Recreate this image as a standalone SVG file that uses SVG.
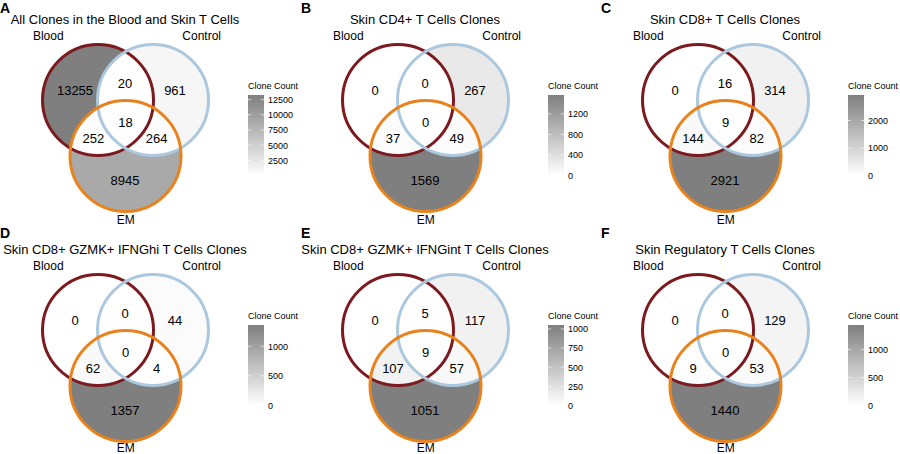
<svg xmlns="http://www.w3.org/2000/svg" xmlns:xlink="http://www.w3.org/1999/xlink" width="900" height="454" viewBox="0 0 900 454">
<style>
text{font-family:"Liberation Sans",Arial,Helvetica,sans-serif;fill:#000}
.pl{font-size:14px;font-weight:bold}
.ti{font-size:13px;text-anchor:middle}
.lab{font-size:12px;text-anchor:middle}
.num{font-size:13px;text-anchor:middle}
.leg{font-size:9px}
.tk{font-size:9px}
.sb{fill:none;stroke:#7b1a1f;stroke-width:3}
.sc{fill:none;stroke:#abc8df;stroke-width:3}
.se{fill:none;stroke:#e8821c;stroke-width:3}
.tm{stroke:#ffffff;stroke-width:0.8;stroke-opacity:0.8}
</style>
<defs>
<circle id="shB" cx="98" cy="100" r="55.5"/>
<circle id="shC" cx="153" cy="100" r="55.5"/>
<circle id="shE" cx="125.5" cy="156" r="55.5"/>
<clipPath id="cB"><circle cx="98" cy="100" r="55.5"/></clipPath>
<clipPath id="cC"><circle cx="153" cy="100" r="55.5"/></clipPath>
<linearGradient id="grad" x1="0" y1="0" x2="0" y2="1">
<stop offset="0" stop-color="#7f7f7f"/>
<stop offset="1" stop-color="#ffffff"/>
</linearGradient>
<rect id="bar" x="248" y="95" width="16" height="80.5" fill="url(#grad)"/>
</defs>
<rect width="900" height="454" fill="#ffffff"/>

<!-- Panel A -->
<g id="panelA" transform="translate(0,0)">
<text class="pl" x="0" y="13">A</text>
<text class="ti" x="125" y="24">All Clones in the Blood and Skin T Cells</text>
<g id="A-regions">
<use href="#shB" fill="#7f7f7f"/>
<use href="#shC" fill="#f6f6f6"/>
<use href="#shE" fill="#a9a9a9"/>
<use href="#shC" clip-path="url(#cB)" fill="#ffffff"/>
<use href="#shE" clip-path="url(#cB)" fill="#fdfdfd"/>
<use href="#shE" clip-path="url(#cC)" fill="#fdfdfd"/>
<g clip-path="url(#cB)"><use href="#shE" clip-path="url(#cC)" fill="#ffffff"/></g>
</g>
<g id="A-blood"><use href="#shB" class="sb"/><text class="lab" x="48.3" y="40">Blood</text></g>
<g id="A-control"><use href="#shC" class="sc"/><text class="lab" x="201.7" y="40">Control</text></g>
<g id="A-em"><use href="#shE" class="se"/><text class="lab" x="125.8" y="224">EM</text></g>
<g id="A-counts">
<text class="num" x="75" y="95">13255</text>
<text class="num" x="125" y="88.3">20</text>
<text class="num" x="175" y="95">961</text>
<text class="num" x="125.5" y="126.7">18</text>
<text class="num" x="93.3" y="143.3">252</text>
<text class="num" x="156.7" y="143.3">264</text>
<text class="num" x="125" y="185">8945</text>
</g>
<g id="A-legend">
<text class="leg" x="248" y="88.5">Clone Count</text>
<use href="#bar"/>
<g class="tm">
<line x1="248" x2="251.2" y1="99.6" y2="99.6"/><line x1="260.8" x2="264" y1="99.6" y2="99.6"/>
<line x1="248" x2="251.2" y1="114.8" y2="114.8"/><line x1="260.8" x2="264" y1="114.8" y2="114.8"/>
<line x1="248" x2="251.2" y1="130" y2="130"/><line x1="260.8" x2="264" y1="130" y2="130"/>
<line x1="248" x2="251.2" y1="145.2" y2="145.2"/><line x1="260.8" x2="264" y1="145.2" y2="145.2"/>
<line x1="248" x2="251.2" y1="160.4" y2="160.4"/><line x1="260.8" x2="264" y1="160.4" y2="160.4"/>
</g>
<text class="tk" x="268" y="102.9">12500</text>
<text class="tk" x="268" y="118.1">10000</text>
<text class="tk" x="268" y="133.3">7500</text>
<text class="tk" x="268" y="148.5">5000</text>
<text class="tk" x="268" y="163.7">2500</text>
</g>
</g>

<!-- Panel B -->
<g id="panelB" transform="translate(300,0)">
<text class="pl" x="1" y="13">B</text>
<text class="ti" x="125" y="24">Skin CD4+ T Cells Clones</text>
<g id="B-regions">
<use href="#shB" fill="#ffffff"/>
<use href="#shC" fill="#e9e9e9"/>
<use href="#shE" fill="#7f7f7f"/>
<use href="#shC" clip-path="url(#cB)" fill="#ffffff"/>
<use href="#shE" clip-path="url(#cB)" fill="#fcfcfc"/>
<use href="#shE" clip-path="url(#cC)" fill="#fbfbfb"/>
<g clip-path="url(#cB)"><use href="#shE" clip-path="url(#cC)" fill="#ffffff"/></g>
</g>
<g id="B-blood"><use href="#shB" class="sb"/><text class="lab" x="48.3" y="40">Blood</text></g>
<g id="B-control"><use href="#shC" class="sc"/><text class="lab" x="201.7" y="40">Control</text></g>
<g id="B-em"><use href="#shE" class="se"/><text class="lab" x="125.8" y="224">EM</text></g>
<g id="B-counts">
<text class="num" x="75" y="95">0</text>
<text class="num" x="125" y="88.3">0</text>
<text class="num" x="175" y="95">267</text>
<text class="num" x="125.5" y="126.7">0</text>
<text class="num" x="93" y="143.3">37</text>
<text class="num" x="156.7" y="143.3">49</text>
<text class="num" x="125" y="185">1569</text>
</g>
<g id="B-legend">
<text class="leg" x="248" y="88.5">Clone Count</text>
<use href="#bar"/>
<g class="tm">
<line x1="248" x2="251.2" y1="113.9" y2="113.9"/><line x1="260.8" x2="264" y1="113.9" y2="113.9"/>
<line x1="248" x2="251.2" y1="134.5" y2="134.5"/><line x1="260.8" x2="264" y1="134.5" y2="134.5"/>
<line x1="248" x2="251.2" y1="155" y2="155"/><line x1="260.8" x2="264" y1="155" y2="155"/>
</g>
<text class="tk" x="268" y="117.2">1200</text>
<text class="tk" x="268" y="137.8">800</text>
<text class="tk" x="268" y="158.3">400</text>
<text class="tk" x="268" y="178.8">0</text>
</g>
</g>

<!-- Panel C -->
<g id="panelC" transform="translate(600,0)">
<text class="pl" x="1" y="13">C</text>
<text class="ti" x="125" y="24">Skin CD8+ T Cells Clones</text>
<g id="C-regions">
<use href="#shB" fill="#ffffff"/>
<use href="#shC" fill="#f1f1f1"/>
<use href="#shE" fill="#7f7f7f"/>
<use href="#shC" clip-path="url(#cB)" fill="#fefefe"/>
<use href="#shE" clip-path="url(#cB)" fill="#f9f9f9"/>
<use href="#shE" clip-path="url(#cC)" fill="#fbfbfb"/>
<g clip-path="url(#cB)"><use href="#shE" clip-path="url(#cC)" fill="#ffffff"/></g>
</g>
<g id="C-blood"><use href="#shB" class="sb"/><text class="lab" x="48.3" y="40">Blood</text></g>
<g id="C-control"><use href="#shC" class="sc"/><text class="lab" x="201.7" y="40">Control</text></g>
<g id="C-em"><use href="#shE" class="se"/><text class="lab" x="125.8" y="224">EM</text></g>
<g id="C-counts">
<text class="num" x="75" y="95">0</text>
<text class="num" x="125" y="88.3">16</text>
<text class="num" x="175" y="95">314</text>
<text class="num" x="125.5" y="126.7">9</text>
<text class="num" x="93" y="143.3">144</text>
<text class="num" x="156.7" y="143.3">82</text>
<text class="num" x="125" y="185">2921</text>
</g>
<g id="C-legend">
<text class="leg" x="248" y="88.5">Clone Count</text>
<use href="#bar"/>
<g class="tm">
<line x1="248" x2="251.2" y1="120.4" y2="120.4"/><line x1="260.8" x2="264" y1="120.4" y2="120.4"/>
<line x1="248" x2="251.2" y1="147.9" y2="147.9"/><line x1="260.8" x2="264" y1="147.9" y2="147.9"/>
</g>
<text class="tk" x="268" y="123.7">2000</text>
<text class="tk" x="268" y="151.2">1000</text>
<text class="tk" x="268" y="178.8">0</text>
</g>
</g>

<!-- Panel D -->
<g id="panelD" transform="translate(0,230)">
<text class="pl" x="0" y="7.5">D</text>
<text class="ti" x="125" y="24">Skin CD8+ GZMK+ IFNGhi T Cells Clones</text>
<g id="D-regions">
<use href="#shB" fill="#ffffff"/>
<use href="#shC" fill="#fbfbfb"/>
<use href="#shE" fill="#7f7f7f"/>
<use href="#shC" clip-path="url(#cB)" fill="#ffffff"/>
<use href="#shE" clip-path="url(#cB)" fill="#f9f9f9"/>
<use href="#shE" clip-path="url(#cC)" fill="#ffffff"/>
<g clip-path="url(#cB)"><use href="#shE" clip-path="url(#cC)" fill="#ffffff"/></g>
</g>
<g id="D-blood"><use href="#shB" class="sb"/><text class="lab" x="48.3" y="40">Blood</text></g>
<g id="D-control"><use href="#shC" class="sc"/><text class="lab" x="201.7" y="40">Control</text></g>
<g id="D-em"><use href="#shE" class="se"/><text class="lab" x="125.8" y="221.5">EM</text></g>
<g id="D-counts">
<text class="num" x="75" y="95">0</text>
<text class="num" x="125" y="88.3">0</text>
<text class="num" x="175" y="95">44</text>
<text class="num" x="125.5" y="126.7">0</text>
<text class="num" x="93" y="143.3">62</text>
<text class="num" x="156.7" y="143.3">4</text>
<text class="num" x="125" y="185">1357</text>
</g>
<g id="D-legend">
<text class="leg" x="248" y="88.5">Clone Count</text>
<use href="#bar"/>
<g class="tm">
<line x1="248" x2="251.2" y1="116.2" y2="116.2"/><line x1="260.8" x2="264" y1="116.2" y2="116.2"/>
<line x1="248" x2="251.2" y1="145.8" y2="145.8"/><line x1="260.8" x2="264" y1="145.8" y2="145.8"/>
</g>
<text class="tk" x="268" y="119.5">1000</text>
<text class="tk" x="268" y="149.1">500</text>
<text class="tk" x="268" y="178.8">0</text>
</g>
</g>

<!-- Panel E -->
<g id="panelE" transform="translate(300,230)">
<text class="pl" x="1" y="7.5">E</text>
<text class="ti" x="125" y="24">Skin CD8+ GZMK+ IFNGint T Cells Clones</text>
<g id="E-regions">
<use href="#shB" fill="#ffffff"/>
<use href="#shC" fill="#f1f1f1"/>
<use href="#shE" fill="#7f7f7f"/>
<use href="#shC" clip-path="url(#cB)" fill="#fefefe"/>
<use href="#shE" clip-path="url(#cB)" fill="#f2f2f2"/>
<use href="#shE" clip-path="url(#cC)" fill="#f8f8f8"/>
<g clip-path="url(#cB)"><use href="#shE" clip-path="url(#cC)" fill="#fefefe"/></g>
</g>
<g id="E-blood"><use href="#shB" class="sb"/><text class="lab" x="48.3" y="40">Blood</text></g>
<g id="E-control"><use href="#shC" class="sc"/><text class="lab" x="201.7" y="40">Control</text></g>
<g id="E-em"><use href="#shE" class="se"/><text class="lab" x="125.8" y="221.5">EM</text></g>
<g id="E-counts">
<text class="num" x="75" y="95">0</text>
<text class="num" x="125" y="88.3">5</text>
<text class="num" x="175" y="95">117</text>
<text class="num" x="125.5" y="126.7">9</text>
<text class="num" x="93" y="143.3">107</text>
<text class="num" x="156.7" y="143.3">57</text>
<text class="num" x="125" y="185">1051</text>
</g>
<g id="E-legend">
<text class="leg" x="248" y="88.5">Clone Count</text>
<use href="#bar"/>
<g class="tm">
<line x1="248" x2="251.2" y1="98.9" y2="98.9"/><line x1="260.8" x2="264" y1="98.9" y2="98.9"/>
<line x1="248" x2="251.2" y1="118.1" y2="118.1"/><line x1="260.8" x2="264" y1="118.1" y2="118.1"/>
<line x1="248" x2="251.2" y1="137.2" y2="137.2"/><line x1="260.8" x2="264" y1="137.2" y2="137.2"/>
<line x1="248" x2="251.2" y1="156.4" y2="156.4"/><line x1="260.8" x2="264" y1="156.4" y2="156.4"/>
</g>
<text class="tk" x="268" y="102.2">1000</text>
<text class="tk" x="268" y="121.4">750</text>
<text class="tk" x="268" y="140.5">500</text>
<text class="tk" x="268" y="159.7">250</text>
<text class="tk" x="268" y="178.8">0</text>
</g>
</g>

<!-- Panel F -->
<g id="panelF" transform="translate(600,230)">
<text class="pl" x="1" y="7.5">F</text>
<text class="ti" x="125" y="24">Skin Regulatory T Cells Clones</text>
<g id="F-regions">
<use href="#shB" fill="#ffffff"/>
<use href="#shC" fill="#f4f4f4"/>
<use href="#shE" fill="#7f7f7f"/>
<use href="#shC" clip-path="url(#cB)" fill="#ffffff"/>
<use href="#shE" clip-path="url(#cB)" fill="#fefefe"/>
<use href="#shE" clip-path="url(#cC)" fill="#fafafa"/>
<g clip-path="url(#cB)"><use href="#shE" clip-path="url(#cC)" fill="#ffffff"/></g>
</g>
<g id="F-blood"><use href="#shB" class="sb"/><text class="lab" x="48.3" y="40">Blood</text></g>
<g id="F-control"><use href="#shC" class="sc"/><text class="lab" x="201.7" y="40">Control</text></g>
<g id="F-em"><use href="#shE" class="se"/><text class="lab" x="125.8" y="221.5">EM</text></g>
<g id="F-counts">
<text class="num" x="75" y="95">0</text>
<text class="num" x="125" y="88.3">0</text>
<text class="num" x="175" y="95">129</text>
<text class="num" x="125.5" y="126.7">0</text>
<text class="num" x="93" y="143.3">9</text>
<text class="num" x="156.7" y="143.3">53</text>
<text class="num" x="125" y="185">1440</text>
</g>
<g id="F-legend">
<text class="leg" x="248" y="88.5">Clone Count</text>
<use href="#bar"/>
<g class="tm">
<line x1="248" x2="251.2" y1="119.6" y2="119.6"/><line x1="260.8" x2="264" y1="119.6" y2="119.6"/>
<line x1="248" x2="251.2" y1="147.6" y2="147.6"/><line x1="260.8" x2="264" y1="147.6" y2="147.6"/>
</g>
<text class="tk" x="268" y="122.9">1000</text>
<text class="tk" x="268" y="150.9">500</text>
<text class="tk" x="268" y="178.8">0</text>
</g>
</g>

<g id="connectors"></g>
</svg>
